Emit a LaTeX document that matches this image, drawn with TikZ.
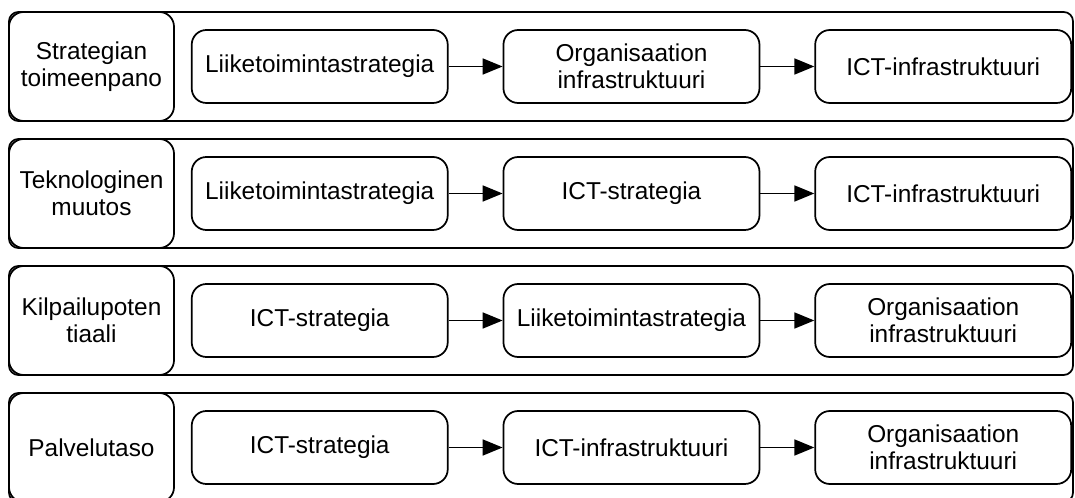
\documentclass[tikz,border=0pt]{standalone}
\usepackage{fontspec}
\setmainfont{Liberation Sans}
\usetikzlibrary{arrows.meta,positioning}

\begin{document}
\begin{tikzpicture}[x=0.75pt,y=-0.75pt,node distance=40.5pt,
    rowbox/.style={draw, line width=1.3pt, rounded corners=7pt, minimum width=798pt, minimum height=81.75pt},
    labelbox/.style={draw, line width=1.3pt, rounded corners=11pt, minimum width=123.75pt, minimum height=81.75pt, align=center, anchor=west},
    stagebox/.style={draw, line width=1.3pt, rounded corners=11pt, minimum width=192pt, minimum height=54.75pt, align=center},
    flow/.style={-{Triangle[length=15pt,width=12pt]}, line width=1.3pt}]
    \useasboundingbox (0,0) rectangle (1075,498);
    \fontsize{18.3}{20.5}\selectfont

    % Strategian toimeenpano
    \node[rowbox] (row1) at (541,66.5) {};
    \node[labelbox] (lab1) at (row1.west) {Strategian\\toimeenpano};
    \node[stagebox, right=12pt of lab1] (a1) {Liiketoimintastrategia};
    \node[stagebox, right=of a1] (b1) {Organisaation\\infrastruktuuri};
    \node[stagebox, right=of b1] (c1) {ICT-infrastruktuuri};
    \draw[flow] (a1) -- (b1);
    \draw[flow] (b1) -- (c1);

    % Teknologinen muutos
    \node[rowbox] (row2) at (541,193.5) {};
    \node[labelbox] (lab2) at (row2.west) {Teknologinen\\muutos};
    \node[stagebox, right=12pt of lab2] (a2) {Liiketoimintastrategia};
    \node[stagebox, right=of a2] (b2) {ICT-strategia};
    \node[stagebox, right=of b2] (c2) {ICT-infrastruktuuri};
    \draw[flow] (a2) -- (b2);
    \draw[flow] (b2) -- (c2);

    % Kilpailupotentiaali
    \node[rowbox] (row3) at (541,320.5) {};
    \node[labelbox] (lab3) at (row3.west) {Kilpailupoten\\tiaali};
    \node[stagebox, right=12pt of lab3] (a3) {ICT-strategia};
    \node[stagebox, right=of a3] (b3) {Liiketoimintastrategia};
    \node[stagebox, right=of b3] (c3) {Organisaation\\infrastruktuuri};
    \draw[flow] (a3) -- (b3);
    \draw[flow] (b3) -- (c3);

    % Palvelutaso
    \node[rowbox] (row4) at (541,447.5) {};
    \node[labelbox] (lab4) at (row4.west) {Palvelutaso};
    \node[stagebox, right=12pt of lab4] (a4) {ICT-strategia};
    \node[stagebox, right=of a4] (b4) {ICT-infrastruktuuri};
    \node[stagebox, right=of b4] (c4) {Organisaation\\infrastruktuuri};
    \draw[flow] (a4) -- (b4);
    \draw[flow] (b4) -- (c4);
\end{tikzpicture}
\end{document}
